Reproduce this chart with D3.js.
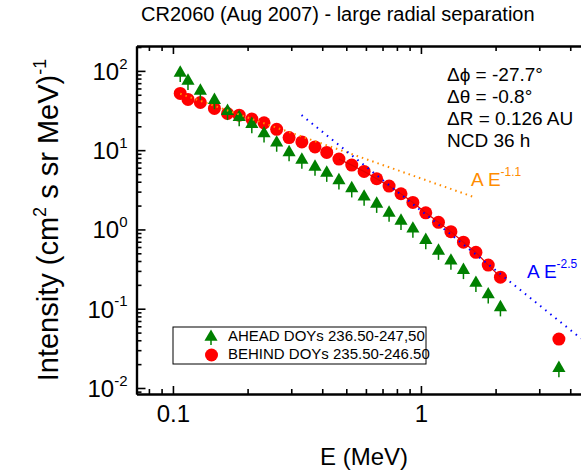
<!DOCTYPE html>
<html><head><meta charset="utf-8">
<script src="https://cdn.jsdelivr.net/npm/d3@7"></script>
<style>body{margin:0;background:#fff}svg{display:block;font-family:Arial,"Liberation Sans",sans-serif}</style>
</head><body><svg id="c" width="581" height="472"></svg>
<script>
const energy = [0.107,0.115,0.129,0.147,0.166,0.185,0.208,0.233,0.262,0.294,0.331,0.374,0.417,0.467,0.526,0.590,0.663,0.744,0.831,0.928,1.046,1.177,1.321,1.484,1.666,1.868,2.092,3.60];
const behind = [51.9,43.6,39.9,33.6,29.0,27.6,24.7,22.1,18.3,14.4,12.7,11.0,9.36,7.71,6.48,5.39,4.36,3.52,2.82,2.19,1.62,1.23,0.938,0.691,0.514,0.355,0.250,0.0414];
const ahead  = [94.3,74.8,56.0,42.7,31.1,26.0,21.3,16.2,12.4,9.38,7.55,6.16,5.17,4.15,3.29,2.58,2.10,1.62,1.28,1.02,0.733,0.537,0.402,0.307,0.211,0.151,0.104,0.0178];
const xTickLabels = [[0.1,"0.1"],[1,"1"]];
const xMinor = [0.08,0.09,0.2,0.3,0.4,0.5,0.6,0.7,0.8,0.9,2,3,4];
const yMajor = [[100,"2"],[10,"1"],[1,"0"],[0.1,"-1"],[0.01,"-2"]];
const fitOrange = {A:4.4, k:-1.1, e0:0.107, e1:1.65};
const fitBlue = {A:1.73, k:-2.5, e0:0.33, e1:4.42};
const redFitRange = [13, 26];
const annotations = ["\u0394\u03d5 = -27.7\u00b0","\u0394\u03b8 = -0.8\u00b0","\u0394R = 0.126 AU","NCD 36 h"];
const legendLabels = ["AHEAD DOYs 236.50-247,50","BEHIND DOYs 235.50-246.50"];

const svg = d3.select("#c");
const x = d3.scaleLog().domain([0.0713,4.42]).range([136.5,581]);
const y = d3.scaleLog().domain([0.0084,206]).range([394,46]);
const GREEN="#008000", RED="#ff0000", ORANGE="#ff8c00", BLUE="#0000ff";

svg.append("text").attr("x",141).attr("y",21).attr("font-size",20).text("CR2060 (Aug 2007) - large radial separation");

const yMinor=[];
for(let d=-3; d<=2; d++) for(let m=2;m<=9;m++){const v=m*Math.pow(10,d); if(v>0.0084&&v<206) yMinor.push(v);}

function styleAxis(g){g.select(".domain").attr("stroke-width",2.2);g.selectAll(".tick line").attr("stroke-width",1.6);}

svg.append("g").attr("transform","translate(0,394)")
  .call(d3.axisBottom(x).tickValues(xMinor).tickSizeInner(-5).tickSizeOuter(0).tickFormat(""))
  .call(styleAxis);
const xb = svg.append("g").attr("transform","translate(0,394)")
  .call(d3.axisBottom(x).tickValues(xTickLabels.map(d=>d[0])).tickSizeInner(-8).tickSizeOuter(0).tickPadding(11)
     .tickFormat((d,i)=>xTickLabels[i][1]))
  .call(styleAxis);
xb.selectAll("text").attr("font-size",24).attr("fill","#000").attr("font-family","Arial, 'Liberation Sans', sans-serif");
svg.append("g").attr("transform","translate(0,46)")
  .call(d3.axisTop(x).tickValues(xMinor).tickSizeInner(-5).tickSizeOuter(0).tickFormat(""))
  .call(styleAxis);
svg.append("g").attr("transform","translate(0,46)")
  .call(d3.axisTop(x).tickValues(xTickLabels.map(d=>d[0])).tickSizeInner(-8).tickSizeOuter(0).tickFormat(""))
  .call(styleAxis);

svg.append("g").attr("transform","translate(136.5,0)")
  .call(d3.axisLeft(y).tickValues(yMinor).tickSizeInner(-5).tickSizeOuter(0).tickFormat(""))
  .call(styleAxis);
const yl = svg.append("g").attr("transform","translate(136.5,0)")
  .call(d3.axisLeft(y).tickValues(yMajor.map(d=>d[0])).tickSizeInner(-9).tickSizeOuter(0).tickPadding(9).tickFormat(""))
  .call(styleAxis);
yl.selectAll(".tick text").each(function(d,i){
  const t=d3.select(this).attr("font-size",24).attr("fill","#000").attr("dy","0.35em")
     .attr("font-family","Arial, 'Liberation Sans', sans-serif");
  t.append("tspan").text("10");
  t.append("tspan").attr("font-size",15).attr("dy","-0.75em").text(yMajor[i][1]);
});

svg.append("text").attr("x",364).attr("y",465).attr("text-anchor","middle").attr("font-size",24).text("E (MeV)");
const yt = svg.append("text").attr("transform","translate(58,220) rotate(-90)").attr("text-anchor","middle").attr("font-size",29);
yt.append("tspan").text("Intensity (cm");
yt.append("tspan").attr("font-size",18).attr("dy",-12).text("2");
yt.append("tspan").attr("dy",12).text(" s sr MeV)");
yt.append("tspan").attr("font-size",18).attr("dy",-12).text("-1");

const pts = energy.map((e,i)=>({e,b:behind[i],a:ahead[i]}));
svg.append("g").selectAll("circle").data(pts).join("circle")
  .attr("cx",d=>x(d.e)).attr("cy",d=>y(d.b)).attr("r",6.5).attr("fill",RED);
const tri = d3.symbol().type(d3.symbolTriangle).size(75);
const gA = svg.append("g").selectAll("g").data(pts).join("g").attr("transform",d=>`translate(${x(d.e)},${y(d.a)})`);
gA.append("line").attr("x1",0).attr("x2",0).attr("y1",0).attr("y2",9).attr("stroke",GREEN).attr("stroke-width",1.5);
gA.append("path").attr("d",tri).attr("fill",GREEN);

const line = d3.line().x(d=>x(d.e)).y(d=>y(d.v));
svg.append("path").datum(pts.slice(redFitRange[0],redFitRange[1]+1).map(d=>({e:d.e,v:d.b})))
  .attr("d",line).attr("fill","none").attr("stroke","#e00000").attr("stroke-width",1.2);

function fitPts(f){const n=40,out=[];for(let i=0;i<=n;i++){const e=f.e0*Math.pow(f.e1/f.e0,i/n);out.push({e,v:f.A*Math.pow(e,f.k)});}return out;}
svg.append("path").datum(fitPts(fitOrange)).attr("d",line).attr("fill","none").attr("stroke",ORANGE)
  .attr("stroke-width",2).attr("stroke-dasharray","1.5,4");
svg.append("path").datum(fitPts(fitBlue)).attr("d",line).attr("fill","none").attr("stroke",BLUE)
  .attr("stroke-width",2).attr("stroke-dasharray","1.5,5");

annotations.forEach((s,i)=>svg.append("text").attr("x",447).attr("y",81+i*22).attr("font-size",19).text(s));
const ao = svg.append("text").attr("x",471).attr("y",186).attr("font-size",19).attr("fill",ORANGE);
ao.append("tspan").text("A E"); ao.append("tspan").attr("font-size",12).attr("dy",-10).text("-1.1");
const ab = svg.append("text").attr("x",527).attr("y",278).attr("font-size",19).attr("fill",BLUE);
ab.append("tspan").text("A E"); ab.append("tspan").attr("font-size",12).attr("dy",-10).text("-2.5");

const lg = svg.append("g");
lg.append("rect").attr("x",173).attr("y",327).attr("width",253).attr("height",37).attr("fill","#fff").attr("stroke","#000").attr("stroke-width",1);
lg.append("path").attr("transform","translate(211,337)").attr("d",tri).attr("fill",GREEN);
lg.append("line").attr("x1",211).attr("x2",211).attr("y1",337).attr("y2",345).attr("stroke",GREEN).attr("stroke-width",1.5);
lg.append("circle").attr("cx",211.5).attr("cy",355).attr("r",6.5).attr("fill",RED);
legendLabels.forEach((s,i)=>lg.append("text").attr("x",228).attr("y",341+i*18).attr("font-size",15).text(s));
</script></body></html>
